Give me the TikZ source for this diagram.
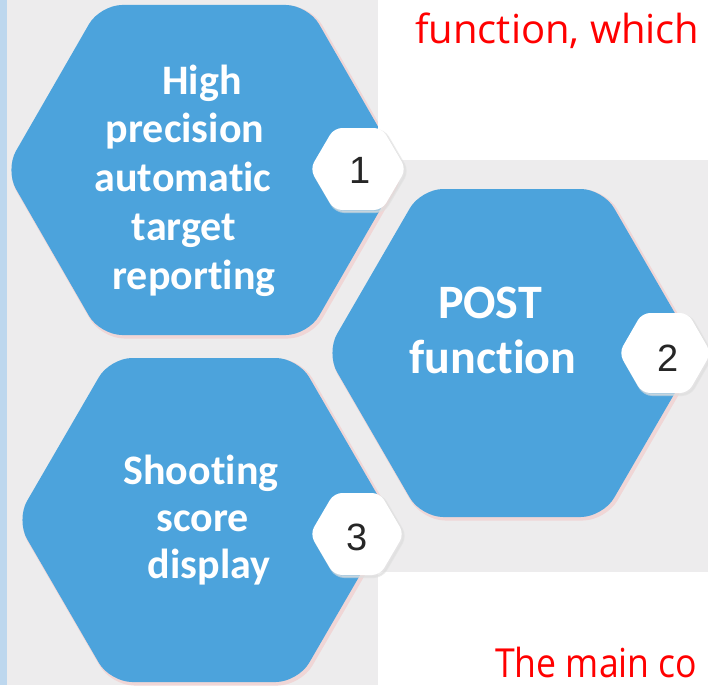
\documentclass[tikz,border=0pt]{standalone}
\usepackage{fontspec}
\setmainfont{Carlito}[Ligatures={NoCommon,NoContextual}]
\newfontfamily\numfont{Liberation Sans}
\newfontfamily\redfont{Open Sans}
\definecolor{bggray}{RGB}{237,236,237}
\definecolor{leftstrip}{RGB}{189,215,238}
\definecolor{hexblue}{RGB}{76,163,220}
\definecolor{hexshadow}{RGB}{240,214,214}
\definecolor{numgray}{RGB}{38,38,38}
\definecolor{badgeshadow}{RGB}{222,222,222}
\newcommand\myhex[5]{(#1-#3,#2) -- (#1-#5,#2-#4) -- (#1+#5,#2-#4) -- (#1+#3,#2) -- (#1+#5,#2+#4) -- (#1-#5,#2+#4) -- cycle}
\tikzset{
  bighex/.style={fill=hexblue, rounded corners=22pt},
  bigshadow/.style={fill=hexshadow, draw=hexshadow, line width=3pt, rounded corners=22pt},
  badgehex/.style={fill=white, rounded corners=8pt},
  badgeshad/.style={fill=badgeshadow, draw=badgeshadow, line width=2pt, rounded corners=8pt, opacity=0.6},
  hextext1/.style={text=white, font=\fontsize{42}{48}\selectfont\bfseries, anchor=base, inner sep=0pt},
  hextext2/.style={text=white, font=\fontsize{48}{55}\selectfont\bfseries, anchor=base, inner sep=0pt},
  hextext3/.style={text=white, font=\fontsize{42}{48}\selectfont\bfseries, anchor=base, inner sep=0pt},
  numtext/.style={text=numgray, font=\numfont\fontsize{38}{40}\selectfont, anchor=base, inner sep=0pt},
  redtext/.style={text=red, font=\redfont\fontsize{40}{48}\selectfont, anchor=base west, inner sep=0pt}
}
\begin{document}
\begin{tikzpicture}[x=1pt,y=-1pt]
\useasboundingbox (0,0) rectangle (708,685);
% backgrounds
\fill[bggray] (7,0) rectangle (378,685);
\fill[bggray] (378,160) rectangle (708,572);
\fill[leftstrip] (0,0) rectangle (7,685);
% big hexagons (shadows then fills)
\path[bigshadow, shift={(2,2)}] \myhex{204}{170}{199}{165}{104};
\path[bigshadow, shift={(2,2)}] \myhex{512}{353}{186}{164}{91};
\path[bigshadow, shift={(2,2)}] \myhex{204}{520}{188}{162}{94};
\path[bighex] \myhex{204}{170}{199}{165}{104};
\path[bighex] \myhex{512}{353}{186}{164}{91};
\path[bighex] \myhex{204}{520}{188}{162}{94};
% white area at top right
\fill[white] (378,0) rectangle (708,160);
% badges
\path[badgeshad, shift={(2,2)}] \myhex{358}{169}{48}{41}{24};
\path[badgeshad, shift={(2,2)}] \myhex{665}{353}{46}{40}{23};
\path[badgeshad, shift={(2,2)}] \myhex{357}{534}{47}{41}{23};
\path[badgehex] \myhex{358}{169}{48}{41}{24};
\path[badgehex] \myhex{665}{353}{46}{40}{23};
\path[badgehex] \myhex{357}{534}{47}{41}{23};
% hexagon texts
\node[hextext1] (h1a) at (202,94) {High};
\node[hextext1] (h1b) at (185,142) {precision};
\node[hextext1] (h1c) at (183,191) {automatic};
\node[hextext1] (h1d) at (184,240) {target};
\node[hextext1] (h1e) at (194,289) {reporting};
\node[hextext2] (h2a) at (490,318) {POST};
\node[hextext2] (h2b) at (493,373) {function};
\node[hextext3] (h3a) at (201,484) {Shooting};
\node[hextext3] (h3b) at (203,531) {score};
\node[hextext3] (h3c) at (209,578) {display};
% numbers
\node[numtext] (n1) at (360,183) {1};
\node[numtext] (n2) at (668,371) {2};
\node[numtext] (n3) at (357,550) {3};
% red texts
\node[redtext] (r1) at (415,44) {function, which};
\node[redtext] (r2) at (495,677) {\scalebox{0.89}[1]{The main co}};
\end{tikzpicture}
\end{document}
